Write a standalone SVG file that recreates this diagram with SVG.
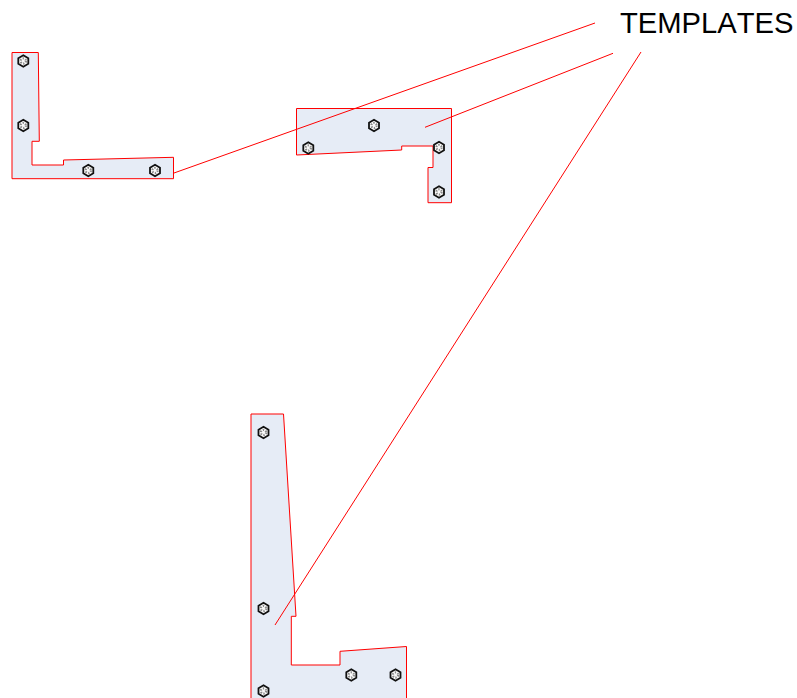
<svg xmlns="http://www.w3.org/2000/svg" width="797" height="698" viewBox="0 0 797 698">
<style>
.plate{fill:#e6ecf6;stroke:#ff0000;stroke-width:1}
.lead{fill:none;stroke:#ff0000;stroke-width:1}
.hex{fill:#fafafa;stroke:#111;stroke-width:1.8}
.core{fill:none;stroke:#8a8a8a;stroke-width:2.2;stroke-dasharray:1.4 1.4}
text{font-family:"Liberation Sans",Arial,sans-serif;font-size:29.2px;fill:#000;font-kerning:none}
</style>
<defs>
<g id="bolt"><polygon class="hex" points="0,-5.7 5,-2.85 5,2.85 0,5.7 -5,2.85 -5,-2.85"/><circle class="core" r="2.6"/></g>
</defs>
<rect width="797" height="698" fill="#fff"/>
<g id="template-1">
<polygon class="plate" points="12,52.5 38.3,52.5 39.3,141.3 32,141.3 32,165 63.5,165 63.5,160 173.5,157.3 173.5,178.7 12,178.7"/>
<use href="#bolt" x="23.3" y="61"/><use href="#bolt" x="23.3" y="125.5"/><use href="#bolt" x="88.3" y="170.5"/><use href="#bolt" x="155" y="170.5"/>
</g>
<g id="template-2">
<polygon class="plate" points="296.5,108.5 451.5,108.5 451.5,202.7 428,202.7 428,167.5 433,167.5 433,146 401.7,146 401.7,150 296.5,155"/>
<use href="#bolt" x="308.3" y="148"/><use href="#bolt" x="374" y="125.5"/><use href="#bolt" x="439" y="147.5"/><use href="#bolt" x="439" y="192"/>
</g>
<g id="template-3">
<polygon class="plate" points="251,414 283.5,414 296,616.3 291.3,616.3 291.3,665 340,665 340,651.3 406.5,646.5 406.5,702 251,702"/>
<use href="#bolt" x="263.5" y="432.5"/><use href="#bolt" x="263.5" y="608.5"/><use href="#bolt" x="351.3" y="675"/><use href="#bolt" x="395.5" y="675"/><use href="#bolt" x="263.5" y="691"/>
</g>
<g id="connectors">
<line class="lead" x1="174" y1="173" x2="595" y2="23"/>
<line class="lead" x1="425" y1="127.3" x2="613" y2="53.3"/>
<line class="lead" x1="275" y1="625" x2="641" y2="52"/>
</g>
<g id="label"><text x="620" y="32.7">TEMPLATES</text></g>
</svg>
